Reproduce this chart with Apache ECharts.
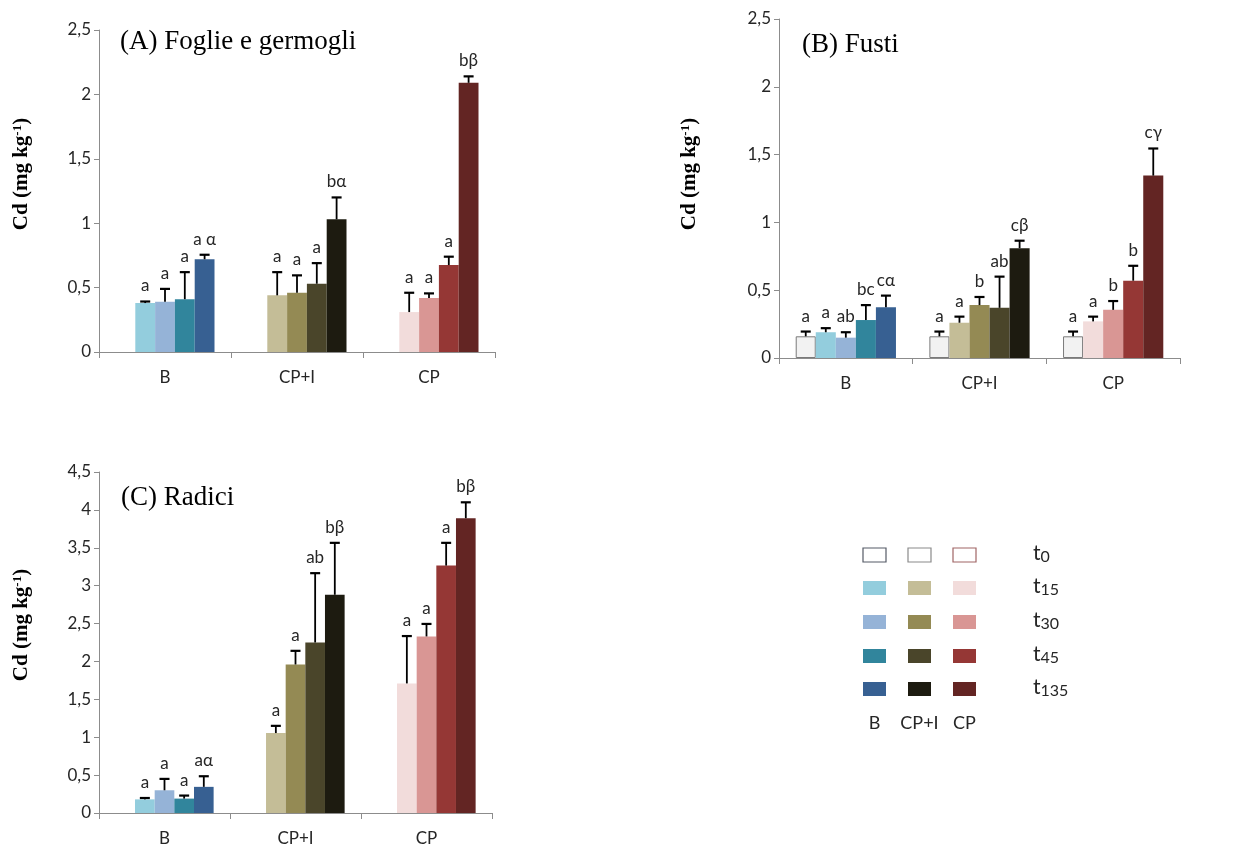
<!DOCTYPE html>
<html>
<head>
<meta charset="utf-8">
<script src="https://cdn.jsdelivr.net/npm/echarts@6/dist/echarts.min.js"></script>
<style>
html,body{margin:0;padding:0;background:#fff;}
#chart{width:1243px;height:847px;}
</style>
</head>
<body>
<div id="chart"></div>
<script>
// ---------- DATA ----------
const categories = ['B', 'CP+I', 'CP'];
const timeSubs = ['0', '15', '30', '45', '135'];

// rows = time (t0, t15, t30, t45, t135); columns = categories (B, CP+I, CP)
const leafMean = [
  [null, null, null],
  [0.38, 0.44, 0.31],
  [0.39, 0.46, 0.42],
  [0.41, 0.53, 0.675],
  [0.72, 1.03, 2.09]
];
const leafErr = [
  [null, null, null],
  [0.012, 0.18, 0.15],
  [0.10, 0.135, 0.035],
  [0.21, 0.16, 0.065],
  [0.035, 0.17, 0.05]
];
const leafLetters = [
  ['', '', ''],
  ['a', 'a', 'a'],
  ['a', 'a', 'a'],
  ['a', 'a', 'a'],
  ['a α', 'bα', 'bβ']
];

const stemMean = [
  [0.16, 0.16, 0.16],
  [0.19, 0.26, 0.27],
  [0.15, 0.39, 0.355],
  [0.28, 0.37, 0.57],
  [0.375, 0.81, 1.345]
];
const stemErr = [
  [0.035, 0.035, 0.035],
  [0.03, 0.045, 0.035],
  [0.04, 0.06, 0.065],
  [0.11, 0.23, 0.11],
  [0.085, 0.055, 0.20]
];
const stemLetters = [
  ['a', 'a', 'a'],
  ['a', 'a', 'a'],
  ['ab', 'b', 'b'],
  ['bc', 'ab', 'b'],
  ['cα', 'cβ', 'cγ']
];

const rootMean = [
  [null, null, null],
  [0.18, 1.055, 1.71],
  [0.30, 1.96, 2.33],
  [0.19, 2.25, 3.265],
  [0.345, 2.88, 3.89]
];
const rootErr = [
  [null, null, null],
  [0.018, 0.095, 0.625],
  [0.15, 0.18, 0.165],
  [0.04, 0.915, 0.30],
  [0.14, 0.685, 0.21]
];
const rootLetters = [
  ['', '', ''],
  ['a', 'a', 'a'],
  ['a', 'a', 'a'],
  ['a', 'ab', 'a'],
  ['aα', 'bβ', 'bβ']
];

const yTicksAB = { min: 0, max: 2.5, interval: 0.5 };
const yTicksC = { min: 0, max: 4.5, interval: 0.5 };

// colours per category, per time
const colorsB = ['#f2f2f2', '#93cddd', '#95b3d7', '#31859c', '#376092'];
const colorsCPI = ['#f2f2f2', '#c4bd97', '#948a54', '#4a452a', '#1d1b10'];
const colorsCP = ['#f2f2f2', '#f2dcdb', '#d99694', '#953735', '#632523'];
const legendBorders = ['#555a66', '#8a8a8a', '#a06565'];

// ---------- BUILD ----------
const catColors = [colorsB, colorsCPI, colorsCP];
const TXT = '#262626';
const AXC = '#8c8c8c';
const SANS = 'Lato';
const SERIF = 'Liberation Serif';
const CAT_GAP = 0.25;

const panels = [
  { mean: leafMean, err: leafErr, letters: leafLetters, ticks: yTicksAB,
    grid: { left: 99, top: 30, width: 396, height: 322 } },
  { mean: stemMean, err: stemErr, letters: stemLetters, ticks: yTicksAB,
    grid: { left: 779, top: 19, width: 401, height: 339 } },
  { mean: rootMean, err: rootErr, letters: rootLetters, ticks: yTicksC,
    grid: { left: 99, top: 472, width: 393, height: 341 } }
];

const grids = [], xAxes = [], yAxes = [], series = [];

panels.forEach((p, pi) => {
  grids.push(Object.assign({ containLabel: false }, p.grid));
  xAxes.push({
    type: 'category', gridIndex: pi, data: categories,
    axisLine: { lineStyle: { color: AXC, width: 1 } },
    axisTick: { show: true, length: 6, lineStyle: { color: AXC } },
    axisLabel: { color: TXT, fontFamily: SANS, fontSize: 17, margin: 17 },
    splitLine: { show: false }
  });
  yAxes.push({
    type: 'value', gridIndex: pi, min: p.ticks.min, max: p.ticks.max, interval: p.ticks.interval,
    axisLine: { show: true, lineStyle: { color: AXC, width: 1 } },
    axisTick: { show: true, length: 5, lineStyle: { color: AXC } },
    axisLabel: { color: TXT, fontFamily: SANS, fontSize: 17, margin: 8,
      formatter: v => String(v).replace('.', ',') },
    splitLine: { show: false }
  });
  // bars
  timeSubs.forEach((t, ti) => {
    series.push({
      type: 'bar', name: 't' + t, xAxisIndex: pi, yAxisIndex: pi,
      barGap: '0%', barCategoryGap: (CAT_GAP * 100) + '%',
      data: p.mean[ti].map((v, ci) => ({
        value: v == null ? '-' : v,
        itemStyle: ti === 0
          ? { color: catColors[ci][0], borderColor: '#7a7a7a', borderWidth: 1 }
          : { color: catColors[ci][ti] }
      })),
      silent: true, animation: false, z: 2
    });
  });
  // error bars + letters
  const errData = [], letterList = [];
  timeSubs.forEach((t, ti) => {
    categories.forEach((c, ci) => {
      if (p.mean[ti][ci] == null) return;
      errData.push([ci, ti, p.mean[ti][ci], p.err[ti][ci]]);
      letterList.push(p.letters[ti][ci]);
    });
  });
  series.push({
    type: 'custom', xAxisIndex: pi, yAxisIndex: pi, data: errData,
    encode: { x: 0, y: 2 }, silent: true, animation: false, z: 5, clip: false,
    renderItem: function (params, api) {
      const ci = api.value(0), ti = api.value(1), m = api.value(2), e = api.value(3);
      const base = api.coord([ci, m]);
      const top = api.coord([ci, m + e]);
      const band = api.size([1, 0])[0];
      const bw = band * (1 - CAT_GAP) / timeSubs.length;
      const x = base[0] + (ti - (timeSubs.length - 1) / 2) * bw;
      return {
        type: 'group',
        children: [
          { type: 'line', shape: { x1: x, y1: base[1], x2: x, y2: top[1] },
            style: { stroke: '#000', lineWidth: 1.8 } },
          { type: 'line', shape: { x1: x - 5, y1: top[1], x2: x + 5, y2: top[1] },
            style: { stroke: '#000', lineWidth: 2.2 } },
          { type: 'text', x: x, y: top[1] - 7,
            style: { text: letterList[params.dataIndex], textAlign: 'center',
              textVerticalAlign: 'bottom', font: '17px ' + SANS, fill: TXT } }
        ]
      };
    }
  });
});

// titles
const titleStyle = { fontFamily: SERIF, fontSize: 27, fontWeight: 'normal', color: '#000' };
const titles = [
  { text: '(A) Foglie e germogli', left: 120, top: 28, padding: 0, textStyle: titleStyle },
  { text: '(B) Fusti', left: 802, top: 31, padding: 0, textStyle: titleStyle },
  { text: '(C) Radici', left: 121, top: 484, padding: 0, textStyle: titleStyle }
];

// y axis names
function yName(x, y) {
  return {
    type: 'text', x: x, y: y, rotation: Math.PI / 2, silent: true,
    style: {
      text: '{b|Cd (mg kg}{s|-1}{b|)}',
      textAlign: 'center', textVerticalAlign: 'middle',
      rich: {
        b: { fontFamily: SERIF, fontWeight: 'bold', fontSize: 21, fill: '#000', color: '#000' },
        s: { fontFamily: SERIF, fontWeight: 'bold', fontSize: 13, fill: '#000', color: '#000', verticalAlign: 'top' }
      }
    }
  };
}

// legend
const legendChildren = [];
const colX = [863, 908, 953];
const rowY = [555, 588, 622, 656, 689];
timeSubs.forEach((t, ti) => {
  catColors.forEach((cols, ci) => {
    legendChildren.push({
      type: 'rect', silent: true,
      shape: { x: colX[ci], y: rowY[ti] - 7, width: 23, height: 14 },
      style: ti === 0
        ? { fill: '#ffffff', stroke: legendBorders[ci], lineWidth: 1.2 }
        : { fill: cols[ti] }
    });
  });
  legendChildren.push({
    type: 'text', x: 1033, y: rowY[ti] - 2, silent: true,
    style: {
      text: '{t|t}{s|' + t + '}', textAlign: 'left', textVerticalAlign: 'middle',
      rich: {
        t: { fontFamily: SANS, fontSize: 21, fill: TXT, color: TXT },
        s: { fontFamily: SANS, fontSize: 16, fill: TXT, color: TXT, verticalAlign: 'bottom', padding: [8, 0, 0, 0] }
      }
    }
  });
});
categories.forEach((c, ci) => {
  legendChildren.push({
    type: 'text', x: colX[ci] + 11.5, y: 723, silent: true,
    style: { text: c, textAlign: 'center', textVerticalAlign: 'middle', font: '18px ' + SANS, fill: TXT }
  });
});

const chart = echarts.init(document.getElementById('chart'), null, { renderer: 'canvas' });
chart.setOption({
  animation: false,
  backgroundColor: '#ffffff',
  title: titles,
  grid: grids,
  xAxis: xAxes,
  yAxis: yAxes,
  series: series,
  graphic: [yName(22, 174), yName(690, 174), yName(22, 625)].concat(legendChildren)
});
</script>
</body>
</html>
